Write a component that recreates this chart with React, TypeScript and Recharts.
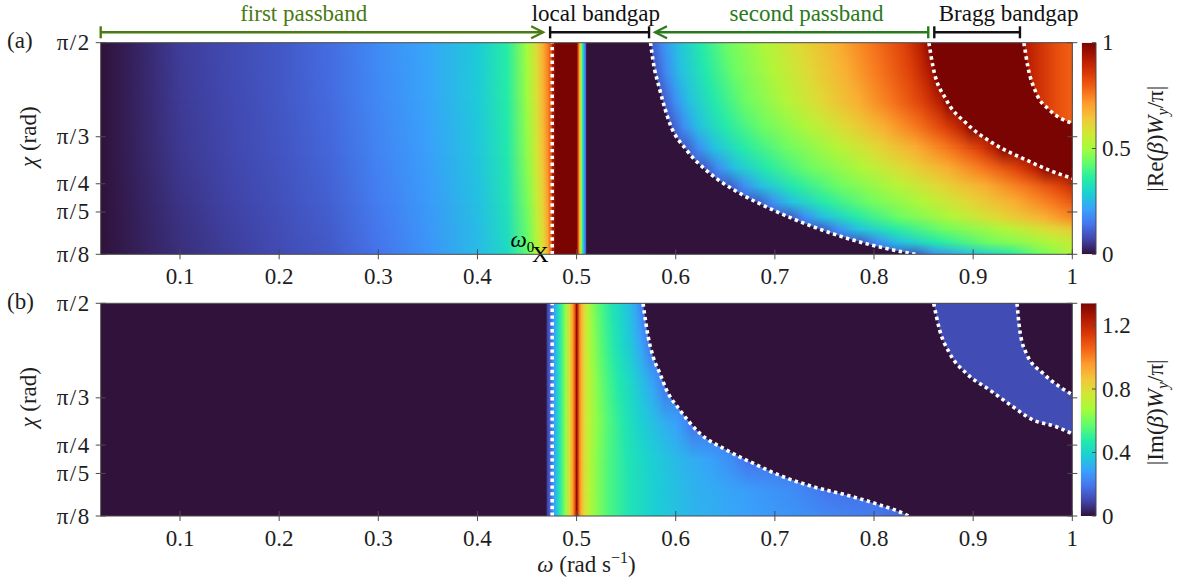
import React from 'react';
import {
  ComposedChart,
  XAxis,
  YAxis,
  ReferenceArea,
  ReferenceLine,
  ReferenceDot,
  Line,
  Area,
} from 'recharts';

const PI = Math.PI;
const FONT = '"Liberation Serif", "Times New Roman", "DejaVu Serif", serif';
const INK = '#1e1e1e';
const FRAME = '#4b4b4b';
const FS = 23;

// turbo colour map, anchors evenly spaced from 0 to 1
const turboAnchors = [
  '#30123b', '#4145ab', '#4675ed', '#39a2fc', '#1bcfd4', '#24eca6', '#61fc6c', '#a4fc3b',
  '#d1e834', '#f3c63a', '#fe9b2d', '#f36315', '#d93806', '#b11901', '#7a0402',
];

// ---------- axes ----------
const omegaDomain = [0.02, 1];
const chiDomain = [PI / 8, PI / 2];
const omegaTicks = [0.1, 0.2, 0.3, 0.4, 0.5, 0.6, 0.7, 0.8, 0.9, 1];
const omegaTickLabels = ['0.1', '0.2', '0.3', '0.4', '0.5', '0.6', '0.7', '0.8', '0.9', '1'];
const chiTicks = [PI / 8, PI / 5, PI / 4, PI / 3, PI / 2];
const chiTickLabels = ['π/8', 'π/5', 'π/4', 'π/3', 'π/2'];

// ---------- colour bars ----------
const reBarMax = 1;
const reBarTicks = [0, 0.5, 1];
const reBarLabels = ['0', '0.5', '1'];
const imBarMax = 1.34;
const imBarTicks = [0, 0.4, 0.8, 1.2];
const imBarLabels = ['0', '0.4', '0.8', '1.2'];

// ---------- band brackets above panel (a) ----------
const bandNames = ['first passband', 'local bandgap', 'second passband', 'Bragg bandgap'];
const bandFrom = [0.02, 0.4733, 0.5791, 0.8608];
const bandTo = [0.4663, 0.5731, 0.8547, 0.9472];
const bandLabelAt = [0.2248, 0.5195, 0.7319, 0.9358];
const bandColors = ['#4a7a12', '#111111', '#2a7a1c', '#111111'];
const bandStartCap = ['bar', 'bar', 'arrow', 'bar'];
const bandEndCap = ['arrow', 'bar', 'bar', 'bar'];
const BRACKET_CHI = 1.6287;

// lower edge of the local bandgap and the resonance marker
const gapEdgeOmega = 0.4754;
const omega0 = 0.4635;

// ---------- (a) |Re(beta) Wy / pi| ----------
// first passband: values on a fixed omega grid, one row per chi
const reFirstOmega = [0.02, 0.05, 0.1, 0.15, 0.2, 0.25, 0.3, 0.35, 0.4, 0.43, 0.45, 0.46, 0.466, 0.471, 0.4754];
const reFirstChi = [PI / 2, 1.25, 0.95, 0.68, PI / 8];
const reFirstValues = [
  [0.0, 0.02, 0.06, 0.08, 0.1, 0.13, 0.18, 0.22, 0.28, 0.36, 0.5, 0.6, 0.68, 0.75, 0.85],
  [0.0, 0.02, 0.058, 0.078, 0.098, 0.127, 0.175, 0.217, 0.277, 0.355, 0.49, 0.59, 0.67, 0.74, 0.85],
  [0.0, 0.019, 0.054, 0.074, 0.094, 0.121, 0.167, 0.21, 0.27, 0.345, 0.475, 0.575, 0.65, 0.73, 0.85],
  [0.0, 0.017, 0.048, 0.068, 0.088, 0.112, 0.156, 0.201, 0.261, 0.33, 0.45, 0.55, 0.62, 0.71, 0.85],
  [0.0, 0.015, 0.04, 0.06, 0.08, 0.1, 0.14, 0.19, 0.25, 0.31, 0.42, 0.52, 0.58, 0.68, 0.85],
];

// local bandgap strip (independent of chi)
const reGapOmega = [0.4754, 0.479, 0.5, 0.5015, 0.503, 0.5045, 0.506, 0.5075, 0.509, 0.5101];
const reGapValues = [0.9, 1.0, 1.0, 0.85, 0.68, 0.5, 0.35, 0.22, 0.13, 0.05];

// second passband: omega position of each level along each chi row
const reSecondLevels = [0.1, 0.18, 0.26, 0.35, 0.44, 0.52, 0.6, 0.68, 0.76, 0.84, 0.92, 0.98];
const reSecondChi = [PI / 2, 1.4, 1.24, 1.1, 0.98, 0.87, 0.77, 0.68, 0.6, 0.53, 0.46, PI / 8];
const reSecondOmega = [
  [0.5746, 0.586, 0.602, 0.625, 0.652, 0.69, 0.725, 0.763, 0.797, 0.83, 0.848, 0.8554],
  [0.58, 0.591, 0.605, 0.631, 0.66, 0.699, 0.734, 0.772, 0.805, 0.837, 0.855, 0.8625],
  [0.5875, 0.599, 0.613, 0.639, 0.671, 0.711, 0.746, 0.784, 0.817, 0.848, 0.867, 0.874],
  [0.596, 0.608, 0.623, 0.65, 0.688, 0.734, 0.772, 0.81, 0.843, 0.871, 0.89, 0.897],
  [0.61, 0.623, 0.639, 0.668, 0.712, 0.762, 0.802, 0.842, 0.876, 0.905, 0.922, 0.93],
  [0.629, 0.643, 0.66, 0.691, 0.736, 0.789, 0.831, 0.874, 0.911, 0.944, 0.964, 0.973],
  [0.654, 0.669, 0.687, 0.72, 0.766, 0.821, 0.865, 0.912, 0.952, 0.988, 1.011, 1.02],
  [0.683, 0.698, 0.716, 0.749, 0.795, 0.85, 0.894, 0.942, 0.982, 1.019, 1.043, 1.052],
  [0.715, 0.73, 0.748, 0.781, 0.825, 0.879, 0.923, 0.971, 1.011, 1.047, 1.071, 1.08],
  [0.747, 0.764, 0.784, 0.821, 0.871, 0.933, 0.982, 1.036, 1.082, 1.123, 1.15, 1.16],
  [0.786, 0.803, 0.825, 0.863, 0.914, 0.979, 1.03, 1.086, 1.133, 1.175, 1.203, 1.214],
  [0.842, 0.86, 0.895, 0.937, 0.967, 1.0, 1.04, 1.08, 1.12, 1.16, 1.2, 1.22],
];

// third passband beyond the Bragg gap
const reThirdOmega = [0.9512, 0.965, 0.985, 1.0];
const reThirdValues = [0.93, 0.88, 0.82, 0.79];

// band edges of panel (a), [omega, chi]
const reEdgeA = [
  [0.5746, PI / 2], [0.577, 1.4745], [0.584, 1.3075], [0.594, 1.122], [0.6109, 0.9734],
  [0.6344, 0.8437], [0.6646, 0.7323], [0.6982, 0.6393], [0.7385, 0.5463], [0.7788, 0.4722],
  [0.8191, 0.4166], [0.842, PI / 8],
];
const reEdgeB = [
  [0.8554, PI / 2], [0.8595, 1.4372], [0.873, 1.2518], [0.8931, 1.122], [0.92, 1.0107],
  [0.9536, 0.9177], [0.9805, 0.8526], [1.0, 0.8158],
];
const reEdgeC = [[0.9512, PI / 2], [0.9552, 1.4372], [0.9637, 1.289], [0.9771, 1.196], [1.0, 1.122]];

// ---------- (b) |Im(beta) Wy / pi| ----------
const imPeakStops = [
  [0.4698, 0.08], [0.4735, 0.16], [0.4754, 0.22], [0.478, 0.3], [0.481, 0.4], [0.485, 0.52],
  [0.489, 0.65], [0.493, 0.8], [0.496, 0.94], [0.4985, 1.1], [0.5, 1.32], [0.5015, 1.15],
  [0.503, 1.0], [0.505, 0.9], [0.508, 0.8],
];
const imGapChi = [PI / 2, 1.35, 1.12, 0.9, 0.7, 0.53, PI / 8];
const imGapTails = [
  [[0.512, 0.7], [0.517, 0.62], [0.525, 0.54], [0.535, 0.46], [0.545, 0.4], [0.553, 0.35], [0.559, 0.3], [0.564, 0.24], [0.567, 0.19]],
  [[0.512, 0.71], [0.518, 0.63], [0.527, 0.54], [0.538, 0.46], [0.548, 0.4], [0.557, 0.35], [0.565, 0.29], [0.571, 0.23], [0.5745, 0.19]],
  [[0.512, 0.72], [0.519, 0.64], [0.529, 0.55], [0.542, 0.47], [0.555, 0.41], [0.566, 0.35], [0.576, 0.3], [0.584, 0.24], [0.5886, 0.19]],
  [[0.512, 0.72], [0.52, 0.64], [0.532, 0.55], [0.548, 0.46], [0.565, 0.39], [0.585, 0.33], [0.6, 0.29], [0.61, 0.24], [0.6166, 0.19]],
  [[0.512, 0.72], [0.52, 0.63], [0.533, 0.54], [0.552, 0.45], [0.575, 0.39], [0.605, 0.33], [0.635, 0.29], [0.658, 0.24], [0.6725, 0.19]],
  [[0.512, 0.72], [0.52, 0.63], [0.533, 0.54], [0.553, 0.45], [0.58, 0.38], [0.62, 0.32], [0.67, 0.28], [0.72, 0.24], [0.757, 0.19]],
  [[0.512, 0.72], [0.52, 0.63], [0.533, 0.54], [0.553, 0.45], [0.58, 0.38], [0.615, 0.33], [0.665, 0.29], [0.74, 0.24], [0.8, 0.2], [0.835, 0.16]],
];
const imBraggValue = 0.11;

const imEdgeA = [
  [0.567, PI / 2], [0.5722, 1.386], [0.5772, 1.275], [0.584, 1.183], [0.5907, 1.091],
  [0.6041, 0.98], [0.6243, 0.851], [0.6512, 0.758], [0.678, 0.685], [0.7083, 0.6103],
  [0.7385, 0.555], [0.7722, 0.509], [0.8057, 0.454], [0.8292, 0.408], [0.835, PI / 8],
];
const imEdgeB = [
  [0.8602, PI / 2], [0.8662, 1.423], [0.8763, 1.294], [0.8931, 1.183], [0.9166, 1.091],
  [0.9401, 0.998], [0.9603, 0.9244], [0.9839, 0.8873], [1.0, 0.848],
];
const imEdgeC = [[0.9442, PI / 2], [0.947, 1.423], [0.9536, 1.294], [0.9704, 1.183], [0.9872, 1.109], [1.0, 1.065]];

// ---------- helpers ----------
type Stop = number[];
type Row = { chi: number; stops: Stop[] };

function hexToRgb(h: string) {
  const n = parseInt(h.slice(1), 16);
  return [(n >> 16) & 255, (n >> 8) & 255, n & 255];
}

function turbo(t: number) {
  const u = Math.max(0, Math.min(1, t)) * (turboAnchors.length - 1);
  const i = Math.min(Math.floor(u), turboAnchors.length - 2);
  const f = u - i;
  const a = hexToRgb(turboAnchors[i]);
  const b = hexToRgb(turboAnchors[i + 1]);
  const c = a.map((v, k) => Math.round(v + (b[k] - v) * f));
  return `rgb(${c[0]},${c[1]},${c[2]})`;
}

const toPts = (arr: number[][]) => arr.map(([omega, chi]) => ({ omega, chi }));

function rowSpan(rows: Row[]) {
  const xs = rows.flatMap((r) => r.stops.map((s) => s[0]));
  return [Math.min(...xs), Math.max(...xs)];
}

const reFirstRows: Row[] = reFirstChi.map((chi, i) => ({
  chi,
  stops: reFirstOmega.map((w, j) => [w, reFirstValues[i][j]]),
}));
const reSecondRows: Row[] = reSecondChi.map((chi, i) => ({
  chi,
  stops: reSecondOmega[i].map((w, j) => [w, reSecondLevels[j]]),
}));
const imGapRows: Row[] = imGapChi.map((chi, i) => ({
  chi,
  stops: [...imPeakStops, ...imGapTails[i]],
}));

function rowGradientDefs(id: string, rows: Row[], vmax: number) {
  const [x0, x1] = rowSpan(rows);
  return rows.map((r, i) => (
    <linearGradient key={`${id}-${i}`} id={`${id}-${i}`} x1="0" y1="0" x2="1" y2="0">
      {r.stops.map(([w, v], j) => (
        <stop key={j} offset={(w - x0) / (x1 - x0)} stopColor={turbo(v / vmax)} />
      ))}
    </linearGradient>
  ));
}

function stripGradientDef(id: string, omegas: number[], values: number[], vmax: number) {
  const x0 = omegas[0];
  const x1 = omegas[omegas.length - 1];
  return (
    <linearGradient key={id} id={id} x1="0" y1="0" x2="1" y2="0">
      {omegas.map((w, j) => (
        <stop key={j} offset={(w - x0) / (x1 - x0)} stopColor={turbo(values[j] / vmax)} />
      ))}
    </linearGradient>
  );
}

// field rows: each band between two rows is drawn with the upper row's colours,
// then the lower row's colours are faded in from top to bottom
function fieldBands(id: string, rows: Row[], z: number) {
  const [x0, x1] = rowSpan(rows);
  const out: React.ReactNode[] = [];
  for (let i = 0; i < rows.length - 1; i++) {
    const top = rows[i].chi;
    const bottom = rows[i + 1].chi;
    out.push(
      <ReferenceArea
        key={`${id}-base-${i}`}
        x1={x0}
        x2={x1}
        y1={bottom}
        y2={top}
        ifOverflow="hidden"
        zIndex={z}
        shape={(p: any) => (
          <rect x={p.x} y={p.y - 0.5} width={p.width} height={p.height + 1} fill={`url(#${id}-${i})`} clipPath={p.clipPath} />
        )}
      />,
    );
    out.push(
      <ReferenceArea
        key={`${id}-fade-${i}`}
        x1={x0}
        x2={x1}
        y1={bottom}
        y2={top}
        ifOverflow="hidden"
        zIndex={z}
        shape={(p: any) => (
          <g clipPath={p.clipPath}>
            <rect x={p.x} y={p.y} width={p.width} height={p.height} fill={`url(#${id}-${i + 1})`} mask="url(#fadeDown)" />
          </g>
        )}
      />,
    );
  }
  return out;
}

const labelFor = (ticks: number[], labels: string[], v: number) => {
  const i = ticks.findIndex((t) => Math.abs(t - v) < 1e-6);
  return i >= 0 ? labels[i] : '';
};

const textStyle = { fontFamily: FONT, fontSize: FS, fill: INK };

const bottomTick = (withLabels: boolean) => (p: any) => (
  <g>
    <line x1={p.x} x2={p.x} y1={p.y - 5} y2={p.y + 5} stroke={FRAME} strokeWidth={1} />
    {withLabels && (
      <text x={p.x} y={p.y + 30} textAnchor="middle" {...textStyle}>
        {labelFor(omegaTicks, omegaTickLabels, p.payload.value)}
      </text>
    )}
  </g>
);

const topTick = (p: any) => (
  <line x1={p.x} x2={p.x} y1={p.y - 5} y2={p.y + 5} stroke={FRAME} strokeWidth={1} />
);

const leftTick = (p: any) => (
  <g>
    <line x1={p.x - 5} x2={p.x + 5} y1={p.y} y2={p.y} stroke={FRAME} strokeWidth={1} />
    <text x={p.x - 10} y={p.y + 7.5} textAnchor="end" letterSpacing={1.5} {...textStyle}>
      {labelFor(chiTicks, chiTickLabels, p.payload.value)}
    </text>
  </g>
);

const rightTick = (p: any) => (
  <line x1={p.x - 5} x2={p.x + 5} y1={p.y} y2={p.y} stroke={FRAME} strokeWidth={1} />
);

const barTick = (ticks: number[], labels: string[]) => (p: any) => (
  <g>
    <line x1={p.x - 4} x2={p.x} y1={p.y} y2={p.y} stroke={FRAME} strokeWidth={1} />
    <text x={p.x + 6} y={p.y + 7.5} textAnchor="start" {...textStyle}>
      {labelFor(ticks, labels, p.payload.value)}
    </text>
  </g>
);

const chiAxisLabel = (panel: string, centerOffset: number) => (props: any) => {
  const vb = props.viewBox || { x: 0, y: 0 };
  const x = vb.x + 28;
  const y = vb.y + centerOffset;
  return (
    <g>
      <text x={vb.x - 1} y={vb.y + 5.5} {...textStyle}>({panel})</text>
      <text x={x} y={y} transform={`rotate(-90 ${x} ${y})`} textAnchor="middle" {...textStyle}>
        <tspan fontStyle="italic">χ</tspan> (rad)
      </text>
    </g>
  );
};

const barAxisLabel = (part: string, centerOffset: number) => (props: any) => {
  const vb = props.viewBox || { x: 0, y: 0 };
  const x = vb.x + 67;
  const y = vb.y + centerOffset;
  return (
    <text x={x} y={y} transform={`rotate(-90 ${x} ${y})`} textAnchor="middle" {...textStyle}>
      |{part}(<tspan fontStyle="italic">β</tspan>)<tspan fontStyle="italic">W</tspan>
      <tspan fontStyle="italic" fontSize={16} dy={5}>y</tspan>
      <tspan dy={-5}>/π|</tspan>
    </text>
  );
};

const omegaAxisLabel = (props: any) => {
  const vb = props.viewBox || { x: 0, y: 0, width: 0 };
  const x = vb.x + vb.width / 2;
  const y = vb.y + 56;
  return (
    <text x={x} y={y} textAnchor="middle" {...textStyle}>
      <tspan fontStyle="italic">ω</tspan> (rad s<tspan fontSize={16} dy={-9}>−1</tspan>
      <tspan dy={9}>)</tspan>
    </text>
  );
};

const bandShape = (i: number) => (p: any) => {
  const { x1, y1, x2 } = p;
  const color = bandColors[i];
  const lx = x1 + ((bandLabelAt[i] - bandFrom[i]) / (bandTo[i] - bandFrom[i])) * (x2 - x1);
  const cap = (kind: string, x: number, dir: number) =>
    kind === 'arrow' ? (
      <polyline
        points={`${x - dir * 12},${y1 - 6} ${x},${y1} ${x - dir * 12},${y1 + 6}`}
        fill="none"
        stroke={color}
        strokeWidth={2.2}
      />
    ) : (
      <line x1={x} x2={x} y1={y1 - 6} y2={y1 + 6} stroke={color} strokeWidth={2.4} />
    );
  return (
    <g>
      <line x1={x1} x2={x2} y1={y1} y2={y1} stroke={color} strokeWidth={2.4} />
      {cap(bandStartCap[i], x1, -1)}
      {cap(bandEndCap[i], x2, 1)}
      <text x={lx} y={y1 - 11} textAnchor="middle" fontFamily={FONT} fontSize={FS} fill={color}>
        {bandNames[i]}
      </text>
    </g>
  );
};

const omega0Shape = (p: any) => (
  <g fontFamily={FONT} fill="#000">
    <text x={p.cx} y={p.cy + 8} textAnchor="middle" fontSize={FS}>X</text>
    <text x={p.cx - 30} y={p.cy - 7} fontSize={FS}>
      <tspan fontStyle="italic">ω</tspan>
      <tspan fontSize={15} dy={5}>0</tspan>
    </text>
  </g>
);

const DOTS = { stroke: '#ffffff', strokeWidth: 3.6, strokeDasharray: '3.4 3.4' };

function edgeLine(key: string, pts: number[][]) {
  return (
    <Line
      key={key}
      data={toPts(pts)}
      dataKey="chi"
      type="monotone"
      dot={false}
      activeDot={false}
      isAnimationActive={false}
      zIndex={60}
      {...DOTS}
    />
  );
}

function axes(labels: boolean, panel: string, chiCenter: number) {
  return [
    <XAxis
      key="xb"
      type="number"
      dataKey="omega"
      domain={omegaDomain}
      ticks={omegaTicks}
      allowDataOverflow
      interval={0}
      height={labels ? 58 : 35}
      tickLine={false}
      tickSize={0}
      tickMargin={0}
      tick={bottomTick(true)}
      axisLine={{ stroke: FRAME }}
      label={labels ? omegaAxisLabel : undefined}
    />,
    <XAxis
      key="xt"
      xAxisId="top"
      orientation="top"
      type="number"
      domain={omegaDomain}
      ticks={omegaTicks}
      allowDataOverflow
      interval={0}
      height={1}
      tickLine={false}
      tickSize={0}
      tickMargin={0}
      tick={topTick}
      axisLine={{ stroke: FRAME }}
    />,
    <YAxis
      key="yl"
      type="number"
      domain={chiDomain}
      ticks={chiTicks}
      allowDataOverflow
      interval={0}
      width={92.7}
      tickLine={false}
      tickSize={0}
      tickMargin={0}
      tick={leftTick}
      axisLine={{ stroke: FRAME }}
      label={chiAxisLabel(panel, chiCenter)}
    />,
    <YAxis
      key="yr"
      yAxisId="right"
      orientation="right"
      type="number"
      domain={chiDomain}
      ticks={chiTicks}
      allowDataOverflow
      interval={0}
      width={1}
      tickLine={false}
      tickSize={0}
      tickMargin={0}
      tick={rightTick}
      axisLine={{ stroke: FRAME }}
    />,
  ];
}

const dark = turbo(0);

function PanelRe() {
  return (
    <ComposedChart width={1180} height={295} margin={{ top: 41.7, right: 106.7, bottom: 5.7, left: 8 }}>
      <ReferenceArea x1={0.02} x2={1} y1={PI / 8} y2={PI / 2} fill={dark} fillOpacity={1} stroke="none" ifOverflow="hidden" zIndex={5} />
      {fieldBands('reFirst', reFirstRows, 10)}
      <ReferenceArea
        x1={reGapOmega[0]}
        x2={reGapOmega[reGapOmega.length - 1]}
        y1={PI / 8}
        y2={PI / 2}
        ifOverflow="hidden"
        zIndex={12}
        shape={(p: any) => <rect x={p.x} y={p.y} width={p.width} height={p.height} fill="url(#reGap)" clipPath={p.clipPath} />}
      />
      {fieldBands('reSecond', reSecondRows, 14)}
      <Area
        data={toPts([[0.5101, PI / 2], ...reEdgeA])}
        dataKey="chi"
        type="monotone"
        baseValue="dataMin"
        fill={dark}
        fillOpacity={1}
        stroke="none"
        dot={false}
        activeDot={false}
        isAnimationActive={false}
        zIndex={20}
      />
      <Area
        data={toPts(reEdgeB)}
        dataKey="chi"
        type="monotone"
        baseValue="dataMax"
        fill={turbo(1)}
        fillOpacity={1}
        stroke="none"
        dot={false}
        activeDot={false}
        isAnimationActive={false}
        zIndex={22}
      />
      <Area
        data={toPts(reEdgeC)}
        dataKey="chi"
        type="monotone"
        baseValue="dataMax"
        fill="url(#reThird)"
        fillOpacity={1}
        stroke="none"
        dot={false}
        activeDot={false}
        isAnimationActive={false}
        zIndex={24}
      />
      {edgeLine('ra', reEdgeA)}
      {edgeLine('rb', reEdgeB)}
      {edgeLine('rc', reEdgeC)}
      <ReferenceLine x={gapEdgeOmega} ifOverflow="hidden" zIndex={60} {...DOTS} />
      <ReferenceDot x={omega0} y={PI / 8} ifOverflow="visible" zIndex={70} shape={omega0Shape} />
      {bandNames.map((name, i) => (
        <ReferenceLine
          key={name}
          segment={[{ x: bandFrom[i], y: BRACKET_CHI }, { x: bandTo[i], y: BRACKET_CHI }]}
          ifOverflow="visible"
          zIndex={70}
          shape={bandShape(i)}
        />
      ))}
      {axes(false, 'a', 94)}
    </ComposedChart>
  );
}

function PanelIm() {
  return (
    <ComposedChart width={1180} height={320} margin={{ top: 42.3, right: 106.7, bottom: 6, left: 8 }}>
      <ReferenceArea x1={0.02} x2={1} y1={PI / 8} y2={PI / 2} fill={dark} fillOpacity={1} stroke="none" ifOverflow="hidden" zIndex={5} />
      {fieldBands('imGap', imGapRows, 10)}
      <Area
        data={toPts([...imEdgeA, [1.0, PI / 8]])}
        dataKey="chi"
        type="monotone"
        baseValue="dataMax"
        fill={dark}
        fillOpacity={1}
        stroke="none"
        dot={false}
        activeDot={false}
        isAnimationActive={false}
        zIndex={20}
      />
      <Area
        data={toPts(imEdgeB)}
        dataKey="chi"
        type="monotone"
        baseValue="dataMax"
        fill={turbo(imBraggValue / imBarMax)}
        fillOpacity={1}
        stroke="none"
        dot={false}
        activeDot={false}
        isAnimationActive={false}
        zIndex={22}
      />
      <Area
        data={toPts(imEdgeC)}
        dataKey="chi"
        type="monotone"
        baseValue="dataMax"
        fill={dark}
        fillOpacity={1}
        stroke="none"
        dot={false}
        activeDot={false}
        isAnimationActive={false}
        zIndex={24}
      />
      {edgeLine('ia', imEdgeA)}
      {edgeLine('ib', imEdgeB)}
      {edgeLine('ic', imEdgeC)}
      <ReferenceLine x={gapEdgeOmega} ifOverflow="hidden" zIndex={60} {...DOTS} />
      {axes(true, 'b', 94)}
    </ComposedChart>
  );
}

function ColorBar(props: {
  height: number;
  top: number;
  bottom: number;
  left: number;
  max: number;
  ticks: number[];
  labels: string[];
  part: string;
  labelCenter: number;
}) {
  const { height, top, bottom, left, max, ticks, labels, part, labelCenter } = props;
  // the bar is one filled area spanning the full value range
  const barData = [
    { pos: 0, level: max },
    { pos: 1, level: max },
  ];
  return (
    <ComposedChart width={110} height={height} margin={{ top, right: 0, bottom, left }}>
      <Area
        data={barData}
        dataKey="level"
        type="linear"
        baseValue={0}
        fill="url(#turboBar)"
        fillOpacity={1}
        stroke="none"
        dot={false}
        activeDot={false}
        isAnimationActive={false}
      />
      <XAxis type="number" dataKey="pos" domain={[0, 1]} allowDataOverflow height={0} tick={false} tickLine={false} axisLine={{ stroke: FRAME }} />
      <XAxis xAxisId="top" orientation="top" type="number" domain={[0, 1]} allowDataOverflow height={0} tick={false} tickLine={false} axisLine={{ stroke: FRAME }} />
      <YAxis yAxisId="left" orientation="left" type="number" domain={[0, max]} allowDataOverflow width={0} tick={false} tickLine={false} axisLine={{ stroke: FRAME }} />
      <YAxis
        orientation="right"
        type="number"
        domain={[0, max]}
        ticks={ticks}
        allowDataOverflow
        interval={0}
        width={84}
        tickLine={false}
        tickSize={0}
        tickMargin={0}
        tick={barTick(ticks, labels)}
        axisLine={{ stroke: FRAME }}
        label={barAxisLabel(part, labelCenter)}
      />
    </ComposedChart>
  );
}

export default function App() {
  return (
    <div style={{ position: 'absolute', left: 0, top: 0, width: 1180, height: 584, background: '#ffffff', overflow: 'hidden' }}>
      <svg width={0} height={0} style={{ position: 'absolute' }}>
        <defs>
          <linearGradient id="fadeRamp" x1="0" y1="0" x2="0" y2="1">
            <stop offset="0" stopColor="#ffffff" stopOpacity={0} />
            <stop offset="1" stopColor="#ffffff" stopOpacity={1} />
          </linearGradient>
          <mask id="fadeDown" maskContentUnits="objectBoundingBox">
            <rect x="0" y="0" width="1" height="1" fill="url(#fadeRamp)" />
          </mask>
          <linearGradient id="turboBar" x1="0" y1="1" x2="0" y2="0">
            {turboAnchors.map((c, k) => (
              <stop key={k} offset={k / (turboAnchors.length - 1)} stopColor={c} />
            ))}
          </linearGradient>
          {rowGradientDefs('reFirst', reFirstRows, reBarMax)}
          {rowGradientDefs('reSecond', reSecondRows, reBarMax)}
          {rowGradientDefs('imGap', imGapRows, imBarMax)}
          {stripGradientDef('reGap', reGapOmega, reGapValues, reBarMax)}
          {stripGradientDef('reThird', reThirdOmega, reThirdValues, reBarMax)}
        </defs>
      </svg>
      <div style={{ position: 'absolute', left: 0, top: 0 }}>
        <PanelRe />
      </div>
      <div style={{ position: 'absolute', left: 1070, top: 0 }}>
        <ColorBar height={295} top={42.7} bottom={40.7} left={11.7} max={reBarMax} ticks={reBarTicks} labels={reBarLabels} part="Re" labelCenter={96} />
      </div>
      <div style={{ position: 'absolute', left: 0, top: 260 }}>
        <PanelIm />
      </div>
      <div style={{ position: 'absolute', left: 1070, top: 260 }}>
        <ColorBar height={320} top={43.3} bottom={64} left={10.7} max={imBarMax} ticks={imBarTicks} labels={imBarLabels} part="Im" labelCenter={109} />
      </div>
    </div>
  );
}
